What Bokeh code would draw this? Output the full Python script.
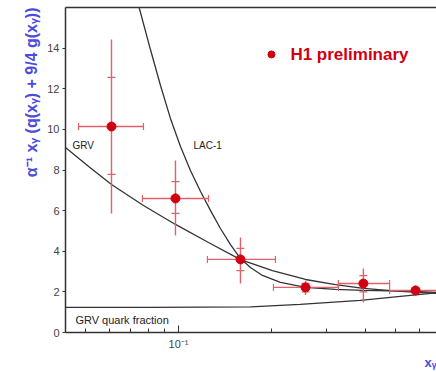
from bokeh.plotting import figure
from bokeh.models import Range1d, FixedTicker, LogAxis, Title, Label
from bokeh.embed import file_html
from bokeh.resources import INLINE

# H1 preliminary points: bin centres, bin edges, values, total and statistical errors
x_pts = [0.0608, 0.0978, 0.1585, 0.257, 0.395, 0.582]
x_lo = [0.0476, 0.0765, 0.124, 0.2025, 0.328, 0.48]
x_hi = [0.0771, 0.125, 0.2055, 0.328, 0.48, 0.70]
y_pts = [10.14, 6.60, 3.60, 2.22, 2.41, 2.07]
y_tot_lo = [5.86, 4.78, 2.41, 1.85, 1.48, 1.82]
y_tot_hi = [14.43, 8.47, 4.68, 2.55, 3.15, 2.32]
y_stat_lo = [7.78, 5.86, 3.05, 2.00, 2.00, 1.95]
y_stat_hi = [12.56, 7.43, 4.14, 2.42, 2.80, 2.20]

# Parametrisations
grv_x = [0.0432, 0.0513, 0.0608, 0.0771, 0.0978, 0.125, 0.1585, 0.201, 0.257, 0.321, 0.395, 0.52, 0.68]
grv_y = [9.11, 8.17, 7.29, 6.25, 5.32, 4.43, 3.59, 3.05, 2.61, 2.36, 2.17, 2.02, 1.92]

lac_x = [0.0737, 0.0748, 0.0812, 0.0875, 0.0942, 0.1015, 0.1093, 0.1178, 0.1268, 0.1366,
         0.1472, 0.1585, 0.1707, 0.1866, 0.2133, 0.257, 0.321, 0.395, 0.582, 0.68]
lac_y = [16.38, 15.95, 13.93, 12.16, 10.54, 9.16, 7.98, 6.94, 6.01, 5.12,
         4.33, 3.64, 3.20, 2.81, 2.47, 2.22, 2.12, 2.07, 2.02, 1.97]

quark_x = [0.0432, 0.0815, 0.1709, 0.247, 0.386, 0.52, 0.68]
quark_y = [1.24, 1.24, 1.26, 1.38, 1.58, 1.78, 1.95]

y_ticks = [0, 2, 4, 6, 8, 10, 12, 14]
x_ticks = [0.1]
x_minor = [0.05, 0.06, 0.07, 0.08, 0.09, 0.2, 0.3, 0.4, 0.5, 0.6]

FONT = "Liberation Sans"
RED = "#d00010"
ERR = "#e2606a"
BLUE = "#4b4bdc"
INK = "#333333"

p = figure(width=436, height=372, x_axis_type="log",
           x_range=Range1d(0.0432, 0.68), y_range=Range1d(0, 16),
           output_backend="svg", toolbar_location=None,
           min_border_left=65, min_border_right=0, min_border_top=7, min_border_bottom=40)
p.outline_line_color = None
p.grid.visible = False
p.background_fill_color = "white"
p.border_fill_color = "white"

# axes
p.xaxis.ticker = FixedTicker(ticks=x_ticks, minor_ticks=x_minor)
p.xaxis.major_label_overrides = {0.1: "10⁻¹"}
p.xaxis.major_tick_in = 7
p.xaxis.major_tick_out = 0
p.xaxis.minor_tick_in = 4
p.xaxis.minor_tick_out = 0
p.yaxis.ticker = FixedTicker(ticks=y_ticks)
p.yaxis.major_tick_in = 0
p.yaxis.major_tick_out = 3
for ax in (p.xaxis[0], p.yaxis[0]):
    ax.axis_line_color = INK
    ax.axis_line_width = 1.5
    ax.major_tick_line_color = INK
    ax.major_label_text_font = FONT
    ax.major_label_text_font_size = "11px"
    ax.major_label_text_color = "#444444"
p.xaxis.minor_tick_line_color = INK
p.yaxis.minor_tick_line_color = None
p.yaxis.major_label_standoff = 3
p.xaxis.major_label_standoff = 5

top = LogAxis(ticker=FixedTicker(ticks=[]), major_label_text_font_size="0px",
              major_tick_in=0, major_tick_out=0, minor_tick_in=0, minor_tick_out=0,
              axis_line_color=INK, axis_line_width=1.5, major_label_standoff=0)
p.add_layout(top, "above")

p.add_layout(Title(text="α⁻¹ xᵧ (q(xᵧ) + 9/4 g(xᵧ))", align="right",
                   text_color=BLUE, text_font=FONT, text_font_size="16px",
                   text_font_style="bold"), "left")
p.add_layout(Title(text="xᵧ", align="right", text_color=BLUE, text_font=FONT,
                   text_font_size="13px", text_font_style="bold", standoff=0), "below")

# curves
p.line(grv_x, grv_y, line_color=INK, line_width=1.3)
p.line(lac_x, lac_y, line_color=INK, line_width=1.3)
p.line(quark_x, quark_y, line_color=INK, line_width=1.3)

# error bars
p.segment(x0=x_lo, y0=y_pts, x1=x_hi, y1=y_pts, line_color=ERR, line_width=1.4)
p.segment(x0=x_pts, y0=y_tot_lo, x1=x_pts, y1=y_tot_hi, line_color=ERR, line_width=1.4)
p.dash(x=x_lo, y=y_pts, size=7, angle=1.5708, line_color=ERR, line_width=1.2)
p.dash(x=x_hi, y=y_pts, size=7, angle=1.5708, line_color=ERR, line_width=1.2)
p.dash(x=x_pts, y=y_stat_lo, size=8, line_color=ERR, line_width=1.2)
p.dash(x=x_pts, y=y_stat_hi, size=8, line_color=ERR, line_width=1.2)
p.scatter(x=x_pts, y=y_pts, size=9, fill_color=RED, line_color=RED)

# legend entry
p.scatter(x=[0.1995], y=[13.69], size=7, fill_color=RED, line_color=RED)
p.add_layout(Label(x=0.2297, y=13.69, text="H1 preliminary", text_color=RED,
                   text_font=FONT, text_font_size="17px", text_font_style="bold",
                   text_baseline="middle"))

# curve labels
p.add_layout(Label(x=0.0455, y=9.21, text="GRV", text_color="#222222",
                   text_font=FONT, text_font_size="10px", text_baseline="middle"))
p.add_layout(Label(x=0.1118, y=9.21, text="LAC-1", text_color="#222222",
                   text_font=FONT, text_font_size="10px", text_baseline="middle"))
p.add_layout(Label(x=0.0465, y=0.64, text="GRV quark fraction", text_color="#222222",
                   text_font=FONT, text_font_size="11px", text_baseline="middle"))

open("out.html", "w").write(file_html(p, INLINE))
